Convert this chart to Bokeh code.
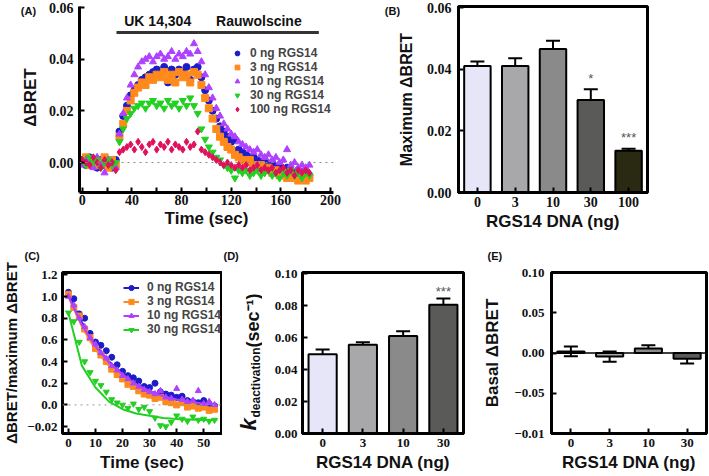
import math
from bokeh.plotting import figure
from bokeh.models import (Range1d, FactorRange, Legend, LegendItem, Span, Title,
                          Whisker, TeeHead, ColumnDataSource, FixedTicker)
from bokeh.layouts import column, row
from bokeh.core.properties import value
from bokeh.embed import file_html
from bokeh.resources import INLINE

# ---------------- data: panel A ----------------
a_time = [0, 3, 6, 9, 12, 15, 18, 21, 24, 27, 30, 33, 36, 39, 42, 45, 48, 51, 54, 57,
          60, 63, 66, 69, 72, 75, 78, 81, 84, 87, 90, 93, 96, 99, 102, 105, 108, 111, 114, 117,
          120, 123, 126, 129, 132, 135, 138, 141, 144, 147, 150, 153, 156, 159, 162, 165, 168, 171, 174, 177,
          180, 183]
a_0ng = [0.001, -0.001, 0.002, 0.000, -0.002, 0.001, -0.001, 0.000, -0.002, 0.001,
         0.012, 0.018, 0.022, 0.026, 0.028, 0.030, 0.032, 0.033, 0.034, 0.035,
         0.036, 0.035, 0.037, 0.031, 0.036, 0.034, 0.036, 0.035, 0.037, 0.032,
         0.036, 0.037, 0.033, 0.028, 0.024, 0.020, 0.017, 0.014, 0.012, 0.010,
         0.008, 0.009, 0.005, 0.004, 0.003, 0.002, 0.002, 0.001, 0.000, 0.001,
         -0.001, 0.000, -0.002, -0.001, -0.003, -0.002, -0.003, -0.004, -0.003, -0.004,
         -0.003, -0.005]
a_3ng = [0.000, 0.002, -0.001, 0.001, -0.001, 0.000, 0.002, -0.002, 0.001, -0.001,
         0.010, 0.015, 0.020, 0.024, 0.027, 0.029, 0.031, 0.030, 0.033, 0.032,
         0.034, 0.033, 0.035, 0.032, 0.034, 0.031, 0.035, 0.033, 0.034, 0.031,
         0.035, 0.034, 0.030, 0.025, 0.021, 0.017, 0.013, 0.010, 0.008, 0.006,
         0.005, 0.003, 0.002, 0.001, 0.000, 0.001, -0.001, -0.002, -0.001, -0.003,
         -0.002, -0.004, -0.003, -0.005, -0.004, -0.006, -0.005, -0.006, -0.007, -0.006,
         -0.007, -0.006]
a_10ng = [-0.001, 0.001, 0.000, -0.002, 0.002, -0.001, -0.004, 0.001, 0.000, -0.002,
          0.011, 0.019, 0.025, 0.030, 0.034, 0.037, 0.039, 0.040, 0.041, 0.039,
          0.041, 0.042, 0.040, 0.041, 0.043, 0.040, 0.042, 0.041, 0.043, 0.042,
          0.046, 0.043, 0.039, 0.034, 0.029, 0.025, 0.021, 0.018, 0.015, 0.013,
          0.011, 0.010, 0.008, 0.007, 0.006, 0.005, 0.004, 0.005, 0.003, 0.002,
          0.003, 0.001, 0.002, 0.000, 0.001, 0.005, -0.001, 0.000, -0.002, -0.001,
          -0.002, -0.001]
a_30ng = [0.001, -0.001, 0.002, 0.000, 0.001, -0.002, 0.000, 0.001, -0.001, 0.000,
          0.008, 0.013, 0.017, 0.019, 0.021, 0.022, 0.023, 0.021, 0.023, 0.024,
          0.022, 0.023, 0.021, 0.024, 0.022, 0.023, 0.021, 0.024, 0.022, 0.025,
          0.022, 0.019, 0.013, 0.009, 0.006, 0.004, 0.002, 0.001, -0.001, -0.002,
          -0.003, -0.006, -0.003, -0.004, -0.003, -0.005, -0.004, -0.003, -0.005, -0.004,
          -0.003, -0.005, -0.004, -0.006, -0.004, -0.005, -0.003, -0.005, -0.004, -0.006,
          -0.004, -0.005]
a_100ng = [0.001, 0.000, -0.001, 0.002, 0.000, -0.002, 0.001, -0.001, 0.000, -0.003,
           0.004, 0.005, 0.006, 0.007, 0.005, 0.008, 0.006, 0.004, 0.007, 0.008,
           0.005, 0.007, 0.006, 0.008, 0.005, 0.007, 0.006, 0.005, 0.008, 0.006,
           0.007, 0.012, 0.005, 0.004, 0.003, 0.002, 0.001, 0.000, -0.001, 0.000,
           -0.001, -0.002, -0.001, -0.002, -0.001, -0.003, -0.002, -0.001, -0.003, -0.002,
           -0.003, -0.002, -0.004, -0.003, -0.002, -0.004, -0.003, -0.005, -0.003, -0.004,
           -0.003, -0.004]
a_series_labels = ["0 ng RGS14", "3 ng RGS14", "10 ng RGS14", "30 ng RGS14", "100 ng RGS14"]
a_xticks = [0, 40, 80, 120, 160, 200]
a_xminor = [20, 60, 100, 140, 180]
a_yticks = [0.0, 0.02, 0.04, 0.06]
a_ytick_labels = ["0.00", "0.02", "0.04", "0.06"]
treat_names = ["UK 14,304", "Rauwolscine"]
treat_start = [27.6, 94.0]
treat_end = [94.0, 190.6]

# ---------------- data: panel B ----------------
b_cats = ["0", "3", "10", "30", "100"]
b_mean = [0.041, 0.041, 0.0465, 0.030, 0.0135]
b_err = [0.0015, 0.0025, 0.0027, 0.0035, 0.0007]
b_sig = ["", "", "", "*", "***"]
b_yticks = [0.0, 0.02, 0.04, 0.06]
b_ytick_labels = ["0.00", "0.02", "0.04", "0.06"]

# ---------------- data: panel C ----------------
c_time = [0, 2, 4, 6, 8, 10, 12, 14, 16, 18, 20, 22, 24, 26, 28, 30, 32, 34, 36, 38,
          40, 42, 44, 46, 48, 50, 52, 54]
c_0ng = [1.04, 0.98, 0.84, 0.80, 0.66, 0.58, 0.55, 0.50, 0.44, 0.37, 0.31, 0.27, 0.25, 0.22,
         0.17, 0.16, 0.20, 0.12, 0.10, 0.09, 0.07, 0.08, 0.04, 0.03, 0.02, 0.04, 0.01, -0.01]
c_3ng = [1.02, 0.90, 0.82, 0.70, 0.62, 0.52, 0.46, 0.40, 0.33, 0.28, 0.24, 0.19, 0.17, 0.13,
         0.10, 0.09, 0.06, 0.07, 0.03, 0.02, 0.00, 0.02, -0.02, -0.01, -0.03, -0.02, -0.05, -0.04]
c_10ng = [1.00, 0.92, 0.80, 0.72, 0.62, 0.56, 0.48, 0.43, 0.36, 0.32, 0.27, 0.24, 0.20, 0.17,
          0.14, 0.12, 0.10, 0.13, 0.07, 0.06, 0.15, 0.05, 0.03, 0.04, 0.13, 0.01, 0.03, 0.00]
c_30ng = [0.85, 0.77, 0.58, 0.40, 0.30, 0.22, 0.18, 0.12, 0.05, 0.02, 0.00, -0.03, 0.01, -0.04,
          -0.02, -0.06, -0.12, -0.19, -0.20, -0.16, -0.10, -0.13, -0.15, -0.11, -0.14, -0.13, -0.15, -0.14]
c_fit_time = [0, 5, 10, 15, 20, 25, 30, 35, 40, 45, 50, 55]
c_fit_0ng = [1.02, 0.76, 0.55, 0.40, 0.29, 0.20, 0.13, 0.08, 0.05, 0.03, 0.01, 0.00]
c_fit_3ng = [1.00, 0.72, 0.51, 0.36, 0.25, 0.16, 0.10, 0.05, 0.02, 0.00, -0.02, -0.03]
c_fit_10ng = [1.00, 0.74, 0.54, 0.39, 0.28, 0.19, 0.13, 0.08, 0.05, 0.03, 0.01, 0.00]
c_fit_30ng = [0.85, 0.36, 0.16, 0.03, -0.04, -0.08, -0.10, -0.12, -0.13, -0.135, -0.14, -0.14]
c_series_labels = ["0 ng RGS14", "3 ng RGS14", "10 ng RGS14", "30 ng RGS14"]
c_xticks = [0, 10, 20, 30, 40, 50]
c_yticks = [-0.2, 0.0, 0.2, 0.4, 0.6, 0.8, 1.0, 1.2]
c_ytick_labels = ["\u22120.02", "0.0", "0.2", "0.4", "0.6", "0.8", "1.0", "1.2"]

# ---------------- data: panel D ----------------
d_cats = ["0", "3", "10", "30"]
d_mean = [0.0495, 0.0555, 0.061, 0.0805]
d_err = [0.003, 0.0015, 0.003, 0.004]
d_sig = ["", "", "", "***"]
d_yticks = [0.0, 0.02, 0.04, 0.06, 0.08, 0.10]
d_ytick_labels = ["0.00", "0.02", "0.04", "0.06", "0.08", "0.10"]

# ---------------- data: panel E ----------------
e_cats = ["0", "3", "10", "30"]
e_mean = [0.002, -0.0045, 0.0055, -0.007]
e_err = [0.006, 0.0065, 0.004, 0.006]
e_yticks = [-0.1, -0.05, 0.0, 0.05, 0.1]
e_ytick_labels = ["\u22120.01", "\u22120.05", "0.00", "0.05", "0.10"]

# ---------------- styles ----------------
SANS = "Liberation Sans"
SERIF = "Liberation Serif"
A_COLORS = ["#1c1cc8", "#ff8a1c", "#b040ff", "#22d022", "#e0105a"]
A_MARKERS = ["circle", "square", "triangle", "inverted_triangle", "diamond"]
BAR5 = ["#e6e6f8", "#a8a8aa", "#8a8a8a", "#5a5a58", "#2a2a12"]
BAR4 = BAR5[:4]
INK = "#111111"


def make_fig(w, h, left, right, top, bottom, xr, yr):
    p = figure(width=w, height=h, x_range=xr, y_range=yr, title=None,
               output_backend="svg", toolbar_location=None,
               min_border_left=left, min_border_right=right,
               min_border_top=top, min_border_bottom=bottom)
    p.grid.visible = False
    p.background_fill_color = "white"
    p.border_fill_color = "white"
    p.outline_line_color = "black"
    p.outline_line_width = 3
    for ax in (p.xaxis[0], p.yaxis[0]):
        ax.axis_line_width = 3
        ax.axis_line_color = "black"
        ax.major_tick_in = 5
        ax.major_tick_out = 0
        ax.major_tick_line_width = 2
        ax.minor_tick_line_color = None
        ax.major_label_text_font = SERIF
        ax.major_label_text_font_style = "bold"
        ax.major_label_text_color = INK
        ax.axis_label_text_font = SANS
        ax.axis_label_text_font_style = "bold"
        ax.axis_label_text_color = INK
    return p


def strip(w, h, top, bottom):
    # axis-free text strip; its frame is aligned with the row's frames (top..h-bottom),
    # so the y range is set to make one data unit equal one pixel, counted from the strip's bottom edge
    s = figure(width=w, height=h, x_range=Range1d(0, w), y_range=Range1d(bottom, h - top),
               title=None, x_axis_type=None, y_axis_type=None, output_backend="svg",
               toolbar_location=None, min_border_left=0, min_border_right=0,
               min_border_top=top, min_border_bottom=bottom)
    s.outline_line_color = None
    s.background_fill_color = "white"
    s.border_fill_color = "white"
    return s


def strip_text(s, x, y, text, size, style="bold", angle=0.0, align="center", baseline="middle"):
    # x, y in pixels from the strip's top-left corner
    s.text(x=[x], y=[s.height - y], text=[text], angle=angle, text_align=align,
           text_baseline=baseline, text_font=value(SANS), text_font_style=style,
           text_font_size=size, text_color=INK)


def panel_title(p, text, offset, standoff):
    p.add_layout(Title(text=text, align="left", offset=offset, standoff=standoff,
                       text_font=SANS, text_font_style="bold", text_font_size="11px",
                       text_color=INK), "above")


def bar_panel(p, cats, mean, err, colors, sig, star_pad, tick_size):
    upper = [m + e for m, e in zip(mean, err)]
    lower = [m - e for m, e in zip(mean, err)]
    star_y = [u + star_pad for u in upper]
    src = ColumnDataSource(dict(cat=cats, mean=mean, upper=upper, lower=lower,
                                color=colors, sig=sig, star_y=star_y))
    p.vbar(x="cat", top="mean", bottom=0, width=0.7, source=src, fill_color="color",
           line_color="black", line_width=2)
    w = Whisker(base="cat", upper="upper", lower="lower", source=src,
                line_color="black", line_width=2,
                upper_head=TeeHead(size=14, line_width=2, line_color="black"),
                lower_head=TeeHead(size=14, line_width=2, line_color="black"))
    p.add_layout(w)
    p.text(x="cat", y="star_y", text="sig", source=src, text_align="center",
           text_baseline="middle", text_font=value(SANS), text_font_size="13px",
           text_color="#555555")
    p.xaxis[0].major_label_text_font_size = f"{tick_size}px"
    p.yaxis[0].major_label_text_font_size = f"{tick_size}px"


# ================= Row 1 (frames from y=6 to y=192) =================
sA = strip(44, 236, 6, 44)
strip_text(sA, 28, 10, "(A)", "11px")
strip_text(sA, 30, 97, "\u0394BRET", "17px", angle=math.pi / 2)

pA = make_fig(318, 236, 35, 29, 6, 44, Range1d(-2.2, 202.4), Range1d(-0.01161, 0.0604))
pA.outline_line_color = None
pA.xaxis[0].ticker = FixedTicker(ticks=a_xticks, minor_ticks=a_xminor)
pA.xaxis[0].minor_tick_line_color = "black"
pA.xaxis[0].minor_tick_line_width = 2
pA.xaxis[0].minor_tick_in = 5
pA.xaxis[0].minor_tick_out = 0
pA.yaxis[0].ticker = FixedTicker(ticks=a_yticks)
pA.yaxis[0].major_label_overrides = dict(zip(a_yticks, a_ytick_labels))
for ax in (pA.xaxis[0], pA.yaxis[0]):
    ax.major_label_text_font_size = "14px"
    ax.axis_label_text_font_size = "17px"
pA.xaxis[0].axis_label = "Time (sec)"
pA.xaxis[0].major_label_standoff = 2
pA.xaxis[0].axis_label_standoff = 1
pA.yaxis[0].major_label_standoff = 6
pA.add_layout(Span(location=0, dimension="width", line_color="#888888",
                   line_width=1, line_dash="dotted"))
BAR_Y = 0.0503
treat_src = ColumnDataSource(dict(x0=treat_start, x1=treat_end, y=[BAR_Y] * 2,
                                  xm=[(a + b) / 2 for a, b in zip(treat_start, treat_end)],
                                  ty=[BAR_Y + 0.0043] * 2, name=treat_names))
pA.segment(x0="x0", y0="y", x1="x1", y1="y", source=treat_src, line_color="#333333", line_width=3)
pA.text(x="xm", y="ty", text="name", source=treat_src, text_align="center",
        text_baseline="middle", text_font=value(SANS), text_font_style="bold",
        text_font_size="14px", text_color=INK)
a_items = []
for ys, col, mk, lab in zip([a_0ng, a_3ng, a_10ng, a_30ng, a_100ng], A_COLORS, A_MARKERS, a_series_labels):
    r = pA.scatter(a_time, ys, marker=mk, size=7, fill_color=col, line_color=col)
    a_items.append(LegendItem(label=lab, renderers=[r]))
legA = Legend(items=a_items, location=(152, 76), padding=0, margin=0, spacing=0,
              glyph_height=12, glyph_width=12, label_height=12, label_standoff=7,
              background_fill_alpha=0, border_line_color=None,
              label_text_font=SANS, label_text_font_style="bold", label_text_font_size="12px")
pA.add_layout(legA)

sB = strip(56, 236, 6, 44)
strip_text(sB, 30, 10, "(B)", "11px")
strip_text(sB, 44, 99, "Maximum \u0394BRET", "16px", angle=math.pi / 2)

pB = make_fig(291, 236, 40, 62, 6, 44, FactorRange(*b_cats, range_padding=0), Range1d(0, 0.06032))
bar_panel(pB, b_cats, b_mean, b_err, BAR5, b_sig, 0.0035, 14)
pB.yaxis[0].ticker = FixedTicker(ticks=b_yticks)
pB.yaxis[0].major_label_overrides = dict(zip(b_yticks, b_ytick_labels))
pB.xaxis[0].axis_label = "RGS14 DNA (ng)"
pB.xaxis[0].axis_label_text_font_size = "17px"
pB.xaxis[0].major_label_standoff = 4
pB.xaxis[0].axis_label_standoff = 2
pB.yaxis[0].major_label_standoff = 7

# ================= Row 2 (frames from y=272 to y=433) =================
pC = make_fig(222, 240, 60, 1, 36, 43, Range1d(-2.19, 56.57), Range1d(-0.264, 1.222))
pC.xaxis[0].ticker = FixedTicker(ticks=c_xticks)
pC.yaxis[0].ticker = FixedTicker(ticks=c_yticks)
pC.yaxis[0].major_label_overrides = dict(zip(c_yticks, c_ytick_labels))
for ax in (pC.xaxis[0], pC.yaxis[0]):
    ax.major_label_text_font_size = "13px"
pC.xaxis[0].axis_label = "Time (sec)"
pC.xaxis[0].axis_label_text_font_size = "17px"
pC.yaxis[0].axis_label = "\u0394BRET/maximum \u0394BRET"
pC.yaxis[0].axis_label_text_font_size = "15px"
pC.xaxis[0].major_label_standoff = 5
pC.xaxis[0].axis_label_standoff = 3
pC.yaxis[0].major_label_standoff = 5
pC.yaxis[0].axis_label_standoff = 4
pC.add_layout(Span(location=0, dimension="width", line_color="#999999",
                   line_width=1, line_dash="dotted"))
c_items = []
for ys, fit, col, mk, lab in zip([c_0ng, c_3ng, c_10ng, c_30ng],
                                 [c_fit_0ng, c_fit_3ng, c_fit_10ng, c_fit_30ng],
                                 A_COLORS[:4], A_MARKERS[:4], c_series_labels):
    rl = pC.line(c_fit_time, fit, line_color=col, line_width=2)
    rs = pC.scatter(c_time, ys, marker=mk, size=6, fill_color=col, line_color=col)
    c_items.append(LegendItem(label=lab, renderers=[rl, rs]))
legC = Legend(items=c_items, location=(61, 97), padding=0, margin=0, spacing=-1,
              glyph_height=13, glyph_width=16, label_height=13, label_standoff=8,
              background_fill_alpha=0, border_line_color=None,
              label_text_font=SANS, label_text_font_style="bold", label_text_font_size="12px")
pC.add_layout(legC)
panel_title(pC, "(C)", -38, 22)

sD = strip(40, 240, 36, 43)
panel_title(sD, "(D)", 1, 22)
strip_text(sD, 26, 194, "k", "22px", style="bold italic", angle=math.pi / 2,
           align="left", baseline="alphabetic")
strip_text(sD, 33, 181, "deactivation", "12px", angle=math.pi / 2,
           align="left", baseline="alphabetic")
strip_text(sD, 30, 111, " (sec\u207b\u00b9)", "18px", angle=math.pi / 2,
           align="left", baseline="alphabetic")

pD = make_fig(218, 240, 40, 17, 36, 43, FactorRange(*d_cats, range_padding=0), Range1d(0, 0.1007))
bar_panel(pD, d_cats, d_mean, d_err, BAR4, d_sig, 0.0045, 13)
pD.yaxis[0].ticker = FixedTicker(ticks=d_yticks)
pD.yaxis[0].major_label_overrides = dict(zip(d_yticks, d_ytick_labels))
pD.xaxis[0].axis_label = "RGS14 DNA (ng)"
pD.xaxis[0].axis_label_text_font_size = "17px"
pD.xaxis[0].major_label_standoff = 5
pD.xaxis[0].axis_label_standoff = 3
pD.yaxis[0].major_label_standoff = 5

pE = make_fig(229, 240, 67, 3, 36, 43, FactorRange(*e_cats, range_padding=0), Range1d(-0.1, 0.1))
bar_panel(pE, e_cats, e_mean, e_err, BAR4, ["", "", "", ""], 0.004, 13)
pE.yaxis[0].ticker = FixedTicker(ticks=e_yticks)
pE.yaxis[0].major_label_overrides = dict(zip(e_yticks, e_ytick_labels))
pE.add_layout(Span(location=0, dimension="width", line_color="black", line_width=1.5))
pE.xaxis[0].axis_label = "RGS14 DNA (ng)"
pE.yaxis[0].axis_label = "Basal \u0394BRET"
for ax in (pE.xaxis[0], pE.yaxis[0]):
    ax.axis_label_text_font_size = "17px"
pE.xaxis[0].major_label_standoff = 5
pE.xaxis[0].axis_label_standoff = 3
pE.yaxis[0].major_label_standoff = 7
pE.yaxis[0].axis_label_standoff = 9
panel_title(pE, "(E)", -64, 22)

layout = column(row(sA, pA, sB, pB), row(pC, sD, pD, pE))
open("out.html", "w").write(file_html(layout, INLINE))
